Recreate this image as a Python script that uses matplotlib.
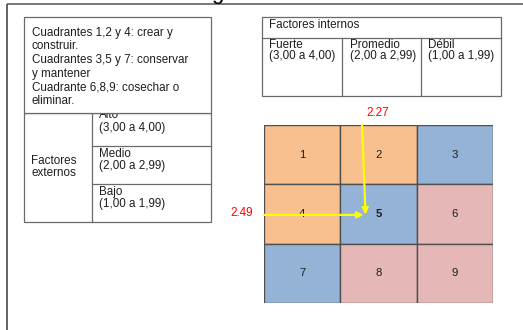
import matplotlib
matplotlib.use("Agg")
import matplotlib.pyplot as plt
from matplotlib.patches import Rectangle

plt.rcParams['font.family'] = ['Liberation Sans', 'DejaVu Sans']

# ---- data ----
strategy_lines = ["Cuadrantes 1,2 y 4: crear y", "construir.",
                  "Cuadrantes 3,5 y 7: conservar", "y mantener",
                  "Cuadrante 6,8,9: cosechar o", "eliminar."]
external_levels = ["Alto", "Medio", "Bajo"]
external_ranges = ["(3,00 a 4,00)", "(2,00 a 2,99)", "(1,00 a 1,99)"]
external_title = ["Factores", "externos"]
internal_title = "Factores internos"
internal_levels = ["Fuerte", "Promedio", "Débil"]
internal_ranges = ["(3,00 a 4,00)", "(2,00 a 2,99)", "(1,00 a 1,99)"]
cell_labels = [[1, 2, 3], [4, 5, 6], [7, 8, 9]]
cell_groups = [["crear", "crear", "conservar"],
               ["crear", "conservar", "cosechar"],
               ["conservar", "cosechar", "cosechar"]]
group_colors = {"crear": "#F9C08F", "conservar": "#95B3D7", "cosechar": "#E5B8B7"}
internal_score = 2.27
external_score = 2.49

W, H = 523, 330
fig = plt.figure(figsize=(W / 100, H / 100), dpi=100)
ax = fig.add_axes([0, 0, 1, 1])
ax.set_xlim(0, W)
ax.set_ylim(H, 0)
ax.axis('off')

FS = 8.4
TC = '#1e1e1e'
edge = "#6a6a6a"

# outer frame
ax.plot([7, W], [4.3, 4.3], color="#555555", lw=1.1, solid_capstyle='butt')
ax.plot([7, 7], [4.3, H], color="#555555", lw=1.3, solid_capstyle='butt')
ax.text(217, -1.0, "g", fontsize=16, ha='center', va='baseline', color='black')

# left table (external factors) -- drawn first, then box over it
ax.add_patch(Rectangle((24, 113), 187, 109, fill=False, ec=edge, lw=0.9))
ax.plot([92, 92], [113, 222], color=edge, lw=0.9)
for yy in [145.5, 183.5]:
    ax.plot([92, 211], [yy, yy], color=edge, lw=0.9)
name_baselines = [118.5, 157, 195]
range_baselines = [131, 169.5, 207.5]
for yb, yr, lev, rng in zip(name_baselines, range_baselines, external_levels, external_ranges):
    ax.text(99, yb, lev, fontsize=FS, va='baseline', ha='left', color=TC)
    ax.text(99, yr, rng, fontsize=FS, va='baseline', ha='left', color=TC)
for yb, t in zip([163.5, 175.5], external_title):
    ax.text(54, yb, t, fontsize=FS, ha='center', va='baseline', color=TC)

# strategy box (covers top of "Alto")
ax.add_patch(Rectangle((24, 16.5), 187, 96.5, fc='white', ec=edge, lw=0.9, zorder=3))
baselines = [35.7, 49.3, 63, 76.7, 90.3, 104]
for yb, line in zip(baselines, strategy_lines):
    ax.text(32, yb, line, fontsize=FS, ha='left', va='baseline', color=TC, zorder=4)

# right table (internal factors)
ax.add_patch(Rectangle((262, 17), 239, 78.5, fill=False, ec=edge, lw=0.9))
ax.plot([262, 501], [37.5, 37.5], color=edge, lw=0.9)
for xx in [342, 421]:
    ax.plot([xx, xx], [37.5, 95.5], color=edge, lw=0.9)
ax.text(269, 28.3, internal_title, fontsize=FS, ha='left', va='baseline', color=TC)
for x0, lev, rng in zip([269, 350, 428], internal_levels, internal_ranges):
    ax.text(x0, 48.5, lev, fontsize=FS, ha='left', va='baseline', color=TC)
    ax.text(x0, 59.5, rng, fontsize=FS, ha='left', va='baseline', color=TC)

# IE grid
gx0, gx1, gy0, gy1 = 264, 493, 125, 303
gax = fig.add_axes([gx0 / W, 1 - gy1 / H, (gx1 - gx0) / W, (gy1 - gy0) / H])
gax.set_xlim(1, 4)
gax.set_ylim(1, 4)
gax.axis('off')
for r in range(3):
    for c in range(3):
        x = 1 + c
        y = 3 - r
        gax.add_patch(Rectangle((x, y), 1, 1, fc=group_colors[cell_groups[r][c]],
                                ec="#505050", lw=1.0))
        gax.text(x + 0.5, y + 0.5, str(cell_labels[r][c]), fontsize=8.2,
                 ha='center', va='center', color=TC,
                 fontweight='bold' if cell_labels[r][c] == 5 else 'normal')

arrow_kw = dict(arrowstyle='-|>', color='#FFFF00', lw=1.6, mutation_scale=9,
                shrinkA=0, shrinkB=0)
gax.annotate('', xy=(internal_score + 0.06, external_score + 0.0),
             xytext=(internal_score + 0.015, 4), arrowprops=arrow_kw, annotation_clip=False)
gax.annotate('', xy=(internal_score + 0.035, external_score - 0.005),
             xytext=(1, external_score - 0.005), arrowprops=arrow_kw, annotation_clip=False)
gax.annotate(f"{internal_score:.2f}", xy=(internal_score, 4), xytext=(12, 8.6),
             textcoords='offset points', fontsize=8.4, color='#FF0000',
             ha='center', va='center', annotation_clip=False)
gax.annotate(f"{external_score:.2f}", xy=(1, external_score), xytext=(-15.8, 1.2),
             textcoords='offset points', fontsize=8.4, color='#FF0000',
             ha='center', va='center', annotation_clip=False)

fig.savefig("out.png", dpi=100)
